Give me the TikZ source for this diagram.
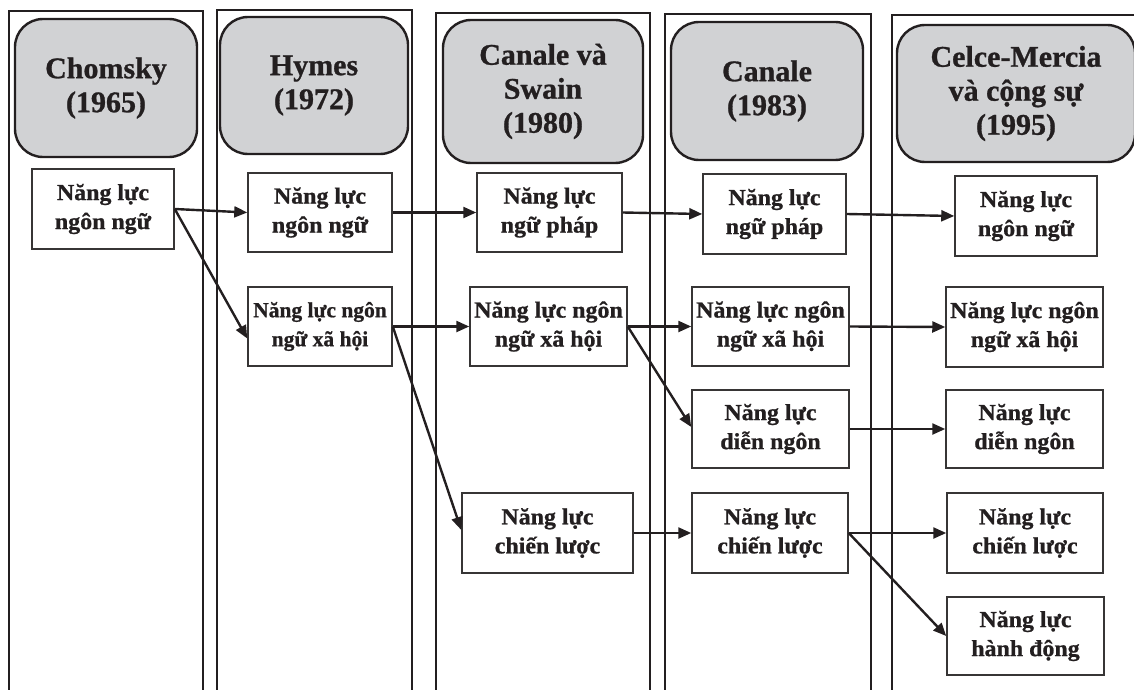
\documentclass[tikz,border=0pt]{standalone}
\usepackage{fontspec}
\setmainfont[FakeBold=0.9]{Liberation Serif}
\newfontfamily\boxfont[FakeStretch=1.04,FakeBold=0.9]{Liberation Serif}
\usetikzlibrary{arrows.meta}
\definecolor{ink}{RGB}{35,31,32}
\definecolor{boxline}{RGB}{55,53,53}
\definecolor{hdrfill}{RGB}{209,210,212}
\begin{document}
\begin{tikzpicture}[x=1pt,y=-1pt,
  colframe/.style={draw=ink, line width=2.5pt},
  hdr/.style={draw=ink, line width=2.4pt, fill=hdrfill, rounded corners=28pt,
    align=center, inner sep=0pt, text=ink,
    font=\bfseries\fontsize{30}{34}\selectfont},
  comp/.style={draw=boxline, line width=1.5pt, fill=white, align=center,
    inner sep=0pt, text=ink, font=\boxfont\bfseries\fontsize{23}{29}\selectfont},
  arr/.style={draw=ink, line width=2.4pt, -{Triangle[length=13pt,width=11pt]}}]
\useasboundingbox (0,0) rectangle (1134,690);
% column frames
\draw[colframe] (9,700) -- (9,11) -- (203,11) -- (203,700);
\draw[colframe] (217,700) -- (217,10) -- (412,10) -- (412,700);
\draw[colframe] (436,700) -- (436,13) -- (650,13) -- (650,700);
\draw[colframe] (665,700) -- (665,14) -- (871,14) -- (871,700);
\draw[colframe] (892,700) -- (892,15) -- (1145,15);
% headers
\node[hdr, minimum width=182pt, minimum height=138pt] (h1) at (106,88) {Chomsky\\(1965)};
\node[hdr, minimum width=188pt, minimum height=137pt] (h2) at (314,85.5) {Hymes\\(1972)};
\node[hdr, minimum width=200pt, minimum height=143pt] (h3) at (543,91.5) {Canale và\\Swain\\(1980)};
\node[hdr, minimum width=192pt, minimum height=138pt] (h4) at (767,91) {Canale\\(1983)};
\node[hdr, minimum width=238pt, minimum height=137pt] (h5) at (1016,93.5) {Celce-Mercia\\và cộng sự\\(1995)};
% competence boxes
\node[comp, minimum width=142pt, minimum height=80pt] (a1) at (103,209) {Năng lực\\ngôn ngữ};
\node[comp, minimum width=144pt, minimum height=79pt] (b1) at (320,212.5) {Năng lực\\ngôn ngữ};
\node[comp, minimum width=144pt, minimum height=79pt,
  font=\bfseries\fontsize{21.5}{29}\selectfont] (b2) at (320,326.5) {Năng lực ngôn\\ngữ xã hội};
\node[comp, minimum width=145pt, minimum height=79pt] (c1) at (549.5,212.5) {Năng lực\\ngữ pháp};
\node[comp, minimum width=157pt, minimum height=79pt] (c2) at (548.5,326.5) {Năng lực ngôn\\ngữ xã hội};
\node[comp, minimum width=171pt, minimum height=80pt] (c3) at (547.5,533) {Năng lực\\chiến lược};
\node[comp, minimum width=143pt, minimum height=80pt] (d1) at (774.5,214) {Năng lực\\ngữ pháp};
\node[comp, minimum width=157pt, minimum height=79pt] (d2) at (770.5,326.5) {Năng lực ngôn\\ngữ xã hội};
\node[comp, minimum width=157pt, minimum height=78pt] (d3) at (770.5,429) {Năng lực\\diễn ngôn};
\node[comp, minimum width=156pt, minimum height=80pt] (d4) at (770,533) {Năng lực\\chiến lược};
\node[comp, minimum width=142pt, minimum height=80pt] (e1) at (1026,216) {Năng lực\\ngôn ngữ};
\node[comp, minimum width=157pt, minimum height=80pt] (e2) at (1024.5,327) {Năng lực ngôn\\ngữ xã hội};
\node[comp, minimum width=157pt, minimum height=78pt] (e3) at (1024.5,429) {Năng lực\\diễn ngôn};
\node[comp, minimum width=156pt, minimum height=80pt] (e4) at (1025,533) {Năng lực\\chiến lược};
\node[comp, minimum width=157pt, minimum height=78pt] (e5) at (1025.5,636) {Năng lực\\hành động};
% arrows
\draw[arr] (a1.east) -- (b1.west);
\draw[arr] (a1.east) -- ([yshift=-12pt]b2.west);
\draw[arr] (b1.east) -- (c1.west);
\draw[arr] (b2.east) -- (c2.west);
\draw[arr] (b2.east) -- ([yshift=3pt]c3.west);
\draw[arr] (c1.east) -- (d1.west);
\draw[arr] (c2.east) -- (d2.west);
\draw[arr] (c2.east) -- ([yshift=2pt]d3.west);
\draw[arr] (c3.east) -- (d4.west);
\draw[arr] (d1.east) -- (e1.west);
\draw[arr] (d2.east) -- (e2.west);
\draw[arr] (d3.east) -- (e3.west);
\draw[arr] (d4.east) -- (e4.west);
\draw[arr] (d4.east) -- (e5.west);
\end{tikzpicture}
\end{document}
